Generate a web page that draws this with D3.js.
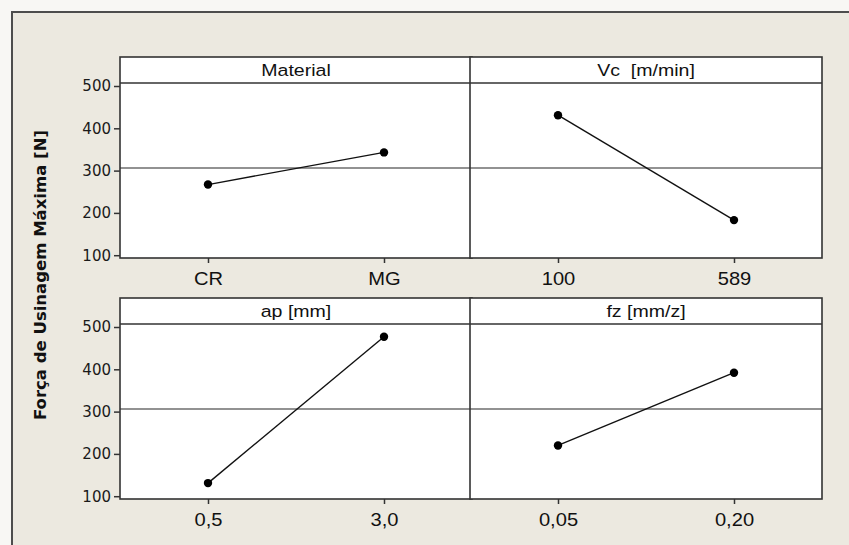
<!DOCTYPE html>
<html>
<head>
<meta charset="utf-8">
<script src="https://cdn.jsdelivr.net/npm/d3@7"></script>
<style>
  body { margin: 0; background: #f8f7f4; }
  svg { display: block; }
</style>
</head>
<body>
<div class="canva"></div>
<script>
// main effects plot data
const titles = ['Material', 'Vc  [m/min]', 'ap [mm]', 'fz [mm/z]'];
const levels = [['CR', 'MG'], ['100', '589'], ['0,5', '3,0'], ['0,05', '0,20']];
const means = [[267, 343], [431, 183], [131, 477], [220, 392]];
const yTicks = [100, 200, 300, 400, 500];
const grandMean = 306;
const yTitle = 'Força de Usinagem Máxima [N]';

const width = 849, height = 545;
const svg = d3.select('.canva').append('svg')
  .attr('width', width)
  .attr('height', height);

// beige frame
svg.append('rect')
  .attr('x', 12).attr('y', 12)
  .attr('width', 860).attr('height', 560)
  .attr('fill', '#ece9e0')
  .attr('stroke', '#4d4d4d')
  .attr('stroke-width', 2);

const colX = [120, 470], colW = 352;
const rowY = [57, 298], headH = 26, plotH = 175;
const labelFont = 'Liberation Sans, Arial, sans-serif';
const stretch = 'scale(1.15,1)'; // text in the picture is a bit wide

const y0 = d3.scaleLinear().domain([93.4, 507.1]).range([plotH, 0]);

titles.forEach((t, i) => {
  const col = i % 2, row = Math.floor(i / 2);
  const g = svg.append('g')
    .attr('transform', `translate(${colX[col]},${rowY[row] + headH})`);

  const x = d3.scalePoint().domain(levels[i]).range([0, colW]).padding(0.5);

  // header strip
  g.append('rect')
    .attr('x', 0).attr('y', -headH)
    .attr('width', colW).attr('height', headH)
    .attr('fill', '#fff');
  g.append('g')
    .attr('transform', `translate(${colW / 2},${-headH / 2})`)
    .append('text')
    .attr('transform', stretch)
    .attr('dy', '0.36em')
    .attr('text-anchor', 'middle')
    .style('font-family', labelFont)
    .style('font-size', '17px')
    .style('white-space', 'pre')
    .attr('fill', '#111')
    .text(t);

  // plot area
  g.append('rect')
    .attr('width', colW).attr('height', plotH)
    .attr('fill', '#fff');

  // reference line at overall mean
  g.append('line')
    .attr('x1', 0).attr('x2', colW)
    .attr('y1', y0(grandMean)).attr('y2', y0(grandMean))
    .attr('stroke', '#6e6e6e')
    .attr('stroke-width', 1.5);

  const pts = levels[i].map((l, k) => [x(l), y0(means[i][k])]);
  g.append('path')
    .attr('d', d3.line()(pts))
    .attr('fill', 'none')
    .attr('stroke', '#111')
    .attr('stroke-width', 1.4);
  g.selectAll('circle').data(pts).enter().append('circle')
    .attr('cx', d => d[0]).attr('cy', d => d[1])
    .attr('r', 4.2)
    .attr('fill', '#000');

  // x axis
  const xa = g.append('g')
    .attr('transform', `translate(0,${plotH})`)
    .call(d3.axisBottom(x).tickSize(5).tickSizeOuter(0));
  xa.select('.domain').remove();
  xa.selectAll('line').attr('stroke', '#333').attr('stroke-width', 1.5);
  xa.selectAll('text')
    .attr('y', 15)
    .attr('transform', stretch)
    .style('font-family', labelFont)
    .style('font-size', '17.5px')
    .attr('fill', '#111');

  // y axis only on left column
  if (col === 0) {
    const ya = g.append('g')
      .call(d3.axisLeft(y0).tickValues(yTicks).tickSize(6).tickPadding(3).tickSizeOuter(0));
    ya.select('.domain').remove();
    ya.selectAll('line').attr('stroke', '#333').attr('stroke-width', 1.5);
    ya.selectAll('text')
      .style('font-family', 'DejaVu Sans, Verdana, sans-serif')
      .style('font-size', '15px')
      .attr('fill', '#1a1a1a');
  }

  // borders
  g.append('rect')
    .attr('x', 0).attr('y', -headH)
    .attr('width', colW).attr('height', headH + plotH)
    .attr('fill', 'none')
    .attr('stroke', '#333')
    .attr('stroke-width', 1.6);
  g.append('line')
    .attr('x1', 0).attr('x2', colW)
    .attr('y1', 0).attr('y2', 0)
    .attr('stroke', '#333')
    .attr('stroke-width', 1.4);
});

// y title
svg.append('text')
  .attr('transform', 'translate(46,275) rotate(-90)')
  .attr('text-anchor', 'middle')
  .style('font-family', 'DejaVu Sans, Verdana, sans-serif')
  .style('font-weight', 'bold')
  .style('font-size', '16.5px')
  .attr('fill', '#111')
  .text(yTitle);
</script>
</body>
</html>
